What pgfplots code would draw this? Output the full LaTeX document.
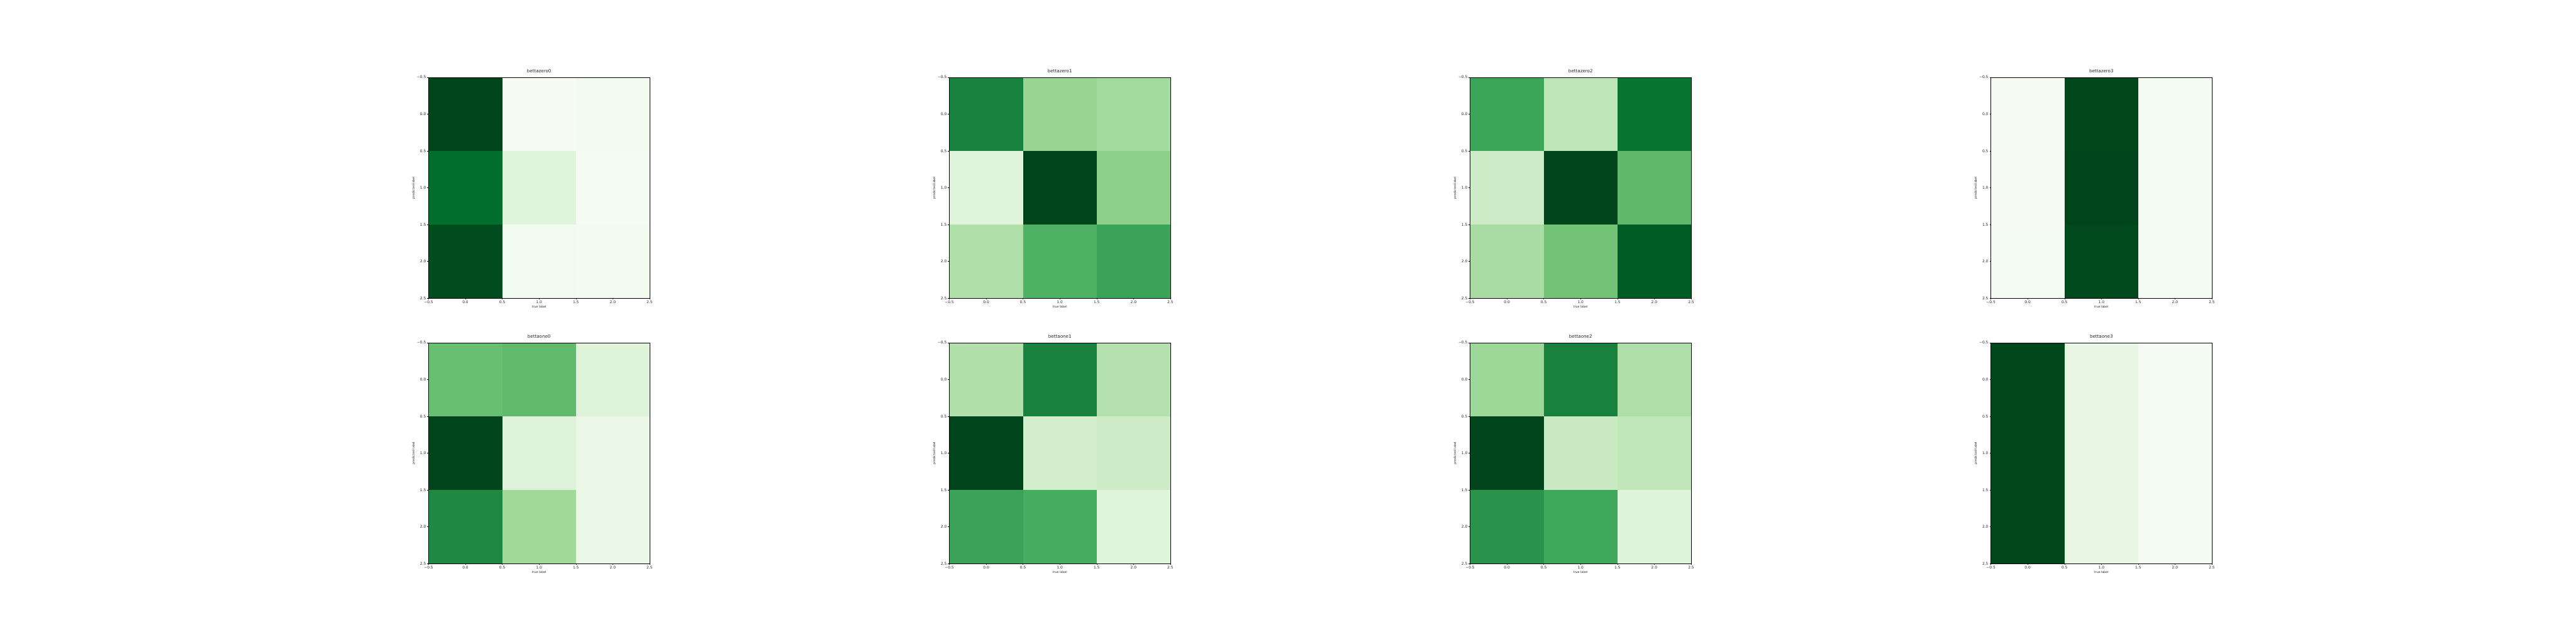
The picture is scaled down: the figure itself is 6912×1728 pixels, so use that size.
\documentclass[border=0pt]{standalone}
\usepackage{fontspec}
\setmainfont{DejaVu Sans}
\usepackage{pgfplots}
\pgfplotsset{compat=1.18}
\pgfplotsset{
  colormap={mplgreens}{rgb255=(247,252,245) rgb255=(229,245,224) rgb255=(199,233,192) rgb255=(161,217,155) rgb255=(116,196,118) rgb255=(65,171,93) rgb255=(35,139,69) rgb255=(0,109,44) rgb255=(0,68,27)},
  cm/.style={
    scale only axis, width=593pt, height=593pt, anchor=south west,
    xmin=-0.5, xmax=2.5, ymin=-0.5, ymax=2.5, y dir=reverse,
    xtick={-0.5,0,0.5,1,1.5,2,2.5}, ytick={-0.5,0,0.5,1,1.5,2,2.5},
    xticklabels={−0.5,0.0,0.5,1.0,1.5,2.0,2.5},
    yticklabels={−0.5,0.0,0.5,1.0,1.5,2.0,2.5},
    tick align=outside, tick pos=left,
    major tick length=3.5pt,
    every tick/.style={black, line width=0.8pt},
    axis line style={black, line width=0.8pt},
    ticklabel style={font=\fontsize{10}{12}\selectfont, text=black!85},
    xlabel={true label}, ylabel={predicted label},
    label style={font=\fontsize{8}{9.6}\selectfont, text=black!85},
    xlabel style={yshift=2pt},
    ylabel style={yshift=-2pt},
    title style={font=\fontsize{12}{14.4}\selectfont, anchor=base, at={(0.5,1)}, yshift=6pt, text=black!85},
    colormap name=mplgreens, point meta min=0, point meta max=1,
    axis on top,
  },
}
\newcommand{\panel}[4]{%
  \begin{axis}[cm, at={(#1pt,#2pt)}, title={#3}]
    \addplot[matrix plot*, mesh/cols=3, point meta=explicit] coordinates {#4};
  \end{axis}}
\begin{document}
\begin{tikzpicture}
\useasboundingbox (0,0) rectangle (6912pt,1728pt);
% row 1
\panel{1150}{927.7}{bettazero0}{
 (0,0)[1.00] (1,0)[0.01] (2,0)[0.03]
 (0,1)[0.87] (1,1)[0.14] (2,1)[0.02]
 (0,2)[0.975] (1,2)[0.04] (2,2)[0.025]}
\panel{2547.3}{927.7}{bettazero1}{
 (0,0)[0.79] (1,0)[0.40] (2,0)[0.37]
 (0,1)[0.145] (1,1)[1.00] (2,1)[0.43]
 (0,2)[0.33] (1,2)[0.59] (2,2)[0.655]}
\panel{3944.6}{927.7}{bettazero2}{
 (0,0)[0.65] (1,0)[0.28] (2,0)[0.846]
 (0,1)[0.225] (1,1)[1.00] (2,1)[0.554]
 (0,2)[0.349] (1,2)[0.505] (2,2)[0.927]}
\panel{5341.9}{927.7}{bettazero3}{
 (0,0)[0.015] (1,0)[0.99] (2,0)[0.02]
 (0,1)[0.015] (1,1)[1.00] (2,1)[0.02]
 (0,2)[0.02] (1,2)[0.985] (2,2)[0.02]}
% row 2
\panel{1150}{215.7}{bettaone0}{
 (0,0)[0.527] (1,0)[0.551] (2,0)[0.158]
 (0,1)[1.00] (1,1)[0.158] (2,1)[0.09]
 (0,2)[0.764] (1,2)[0.375] (2,2)[0.09]}
\panel{2547.3}{215.7}{bettaone1}{
 (0,0)[0.326] (1,0)[0.786] (2,0)[0.309]
 (0,1)[1.00] (1,1)[0.20] (2,1)[0.225]
 (0,2)[0.655] (1,2)[0.615] (2,2)[0.145]}
\panel{3944.6}{215.7}{bettaone2}{
 (0,0)[0.383] (1,0)[0.79] (2,0)[0.33]
 (0,1)[1.00] (1,1)[0.245] (2,1)[0.27]
 (0,2)[0.72] (1,2)[0.638] (2,2)[0.15]}
\panel{5341.9}{215.7}{bettaone3}{
 (0,0)[0.99] (1,0)[0.105] (2,0)[0.02]
 (0,1)[0.99] (1,1)[0.105] (2,1)[0.02]
 (0,2)[0.99] (1,2)[0.105] (2,2)[0.02]}
\end{tikzpicture}
\end{document}
